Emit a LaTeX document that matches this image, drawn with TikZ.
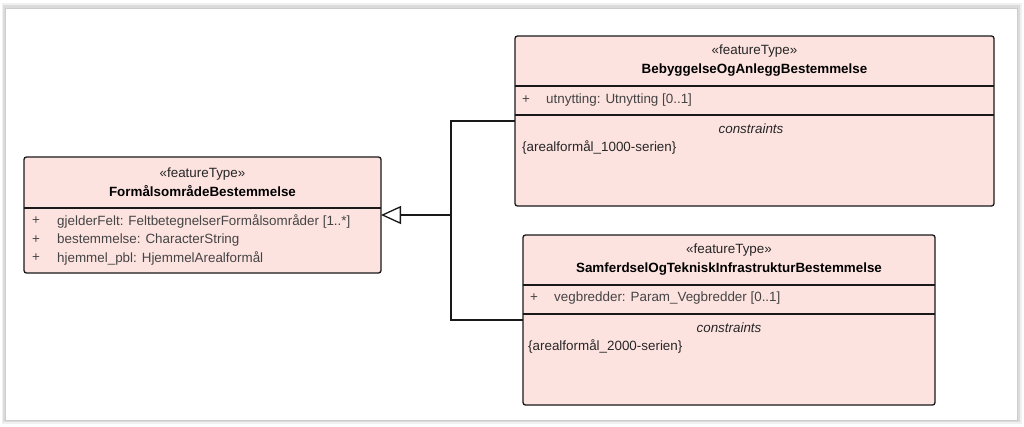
\documentclass[tikz,border=0pt]{standalone}
\usepackage{fontspec}
\setmainfont{Liberation Sans}
\usetikzlibrary{arrows.meta}
\definecolor{boxfill}{HTML}{FDE3E0}
\definecolor{attrtext}{HTML}{444444}
\tikzset{
  umlbox/.style={draw=black!90, fill=boxfill, line width=1.3pt, rounded corners=2.5pt, anchor=north west, inner sep=0pt, outer sep=0pt},
  sep/.style={draw=black!90, line width=1.1pt},
  stereo/.style={font=\fontsize{13.4}{15}\selectfont, text=black!85, inner sep=0pt},
  cname/.style={font=\fontsize{13.4}{15}\selectfont\bfseries, inner sep=0pt},
  attr/.style={font=\fontsize{13.4}{15}\selectfont, text=attrtext, anchor=west, inner sep=0pt},
  cons/.style={font=\fontsize{13.4}{15}\selectfont\itshape, text=black!85, inner sep=0pt},
  conn/.style={draw=black!90, line width=1.3pt},
}
\begin{document}
\begin{tikzpicture}[x=1pt,y=-1pt]
\useasboundingbox (0,0) rectangle (1024,426);
% frame with shadow
\fill[black!6] (2,3) rectangle (1022,424);
\fill[black!14] (3,5) rectangle (1020,422);
\fill[white] (5,8) rectangle (1017,420);
\draw[black!20, line width=0.6pt] (5,8) rectangle (1017,420);

% left class
\node[umlbox, minimum width=357pt, minimum height=116pt] (f) at (24,157) {};
\draw[sep] (24,208) -- (381,208);
\node[stereo] (fs) at (202.5,174) {«featureType»};
\node[cname] (fn) at (202.5,191) {FormålsområdeBestemmelse};
\node[attr] (fa1p) at (32,221) {+};
\node[attr] (fa1) at (57,221) {gjelderFelt: FeltbetegnelserFormålsområder [1..*]};
\node[attr] (fa2p) at (32,240) {+};
\node[attr] (fa2) at (57,240) {bestemmelse: CharacterString};
\node[attr] (fa3p) at (32,258) {+};
\node[attr] (fa3) at (57,258) {hjemmel\_pbl: HjemmelArealformål};

% top right class
\node[umlbox, minimum width=479pt, minimum height=170pt] (b) at (515,36) {};
\draw[sep] (515,86) -- (994,86);
\draw[sep] (515,115) -- (994,115);
\node[stereo] (bs) at (754.5,51) {«featureType»};
\node[cname] (bn) at (754.5,70) {BebyggelseOgAnleggBestemmelse};
\node[attr] (ba1p) at (522,100) {+};
\node[attr] (ba1) at (546,100) {utnytting: Utnytting [0..1]};
\node[cons] (bc) at (751,129) {constraints};
\node[attr, text=black!85] (bc1) at (522,147) {\{arealformål\_1000-serien\}};

% bottom right class
\node[umlbox, minimum width=412pt, minimum height=170pt] (s) at (523,235) {};
\draw[sep] (523,285) -- (935,285);
\draw[sep] (523,314) -- (935,314);
\node[stereo] (ss) at (729,250) {«featureType»};
\node[cname] (sn) at (729,269) {SamferdselOgTekniskInfrastrukturBestemmelse};
\node[attr] (sa1p) at (530,298) {+};
\node[attr] (sa1) at (554,298) {vegbredder: Param\_Vegbredder [0..1]};
\node[cons] (sc) at (729,328) {constraints};
\node[attr, text=black!85] (sc1) at (528,346) {\{arealformål\_2000-serien\}};

% generalization connectors
\coordinate (j) at (451,215);
\coordinate (bw) at (b.west |- 0,121);
\coordinate (sw) at (s.west |- 0,320);
\draw[conn] (bw) -| (j) |- (sw);
\draw[conn, -{Triangle[open, length=20pt, width=18pt, line width=1.3pt]}] (j) -- (f.east |- j);
\end{tikzpicture}
\end{document}
